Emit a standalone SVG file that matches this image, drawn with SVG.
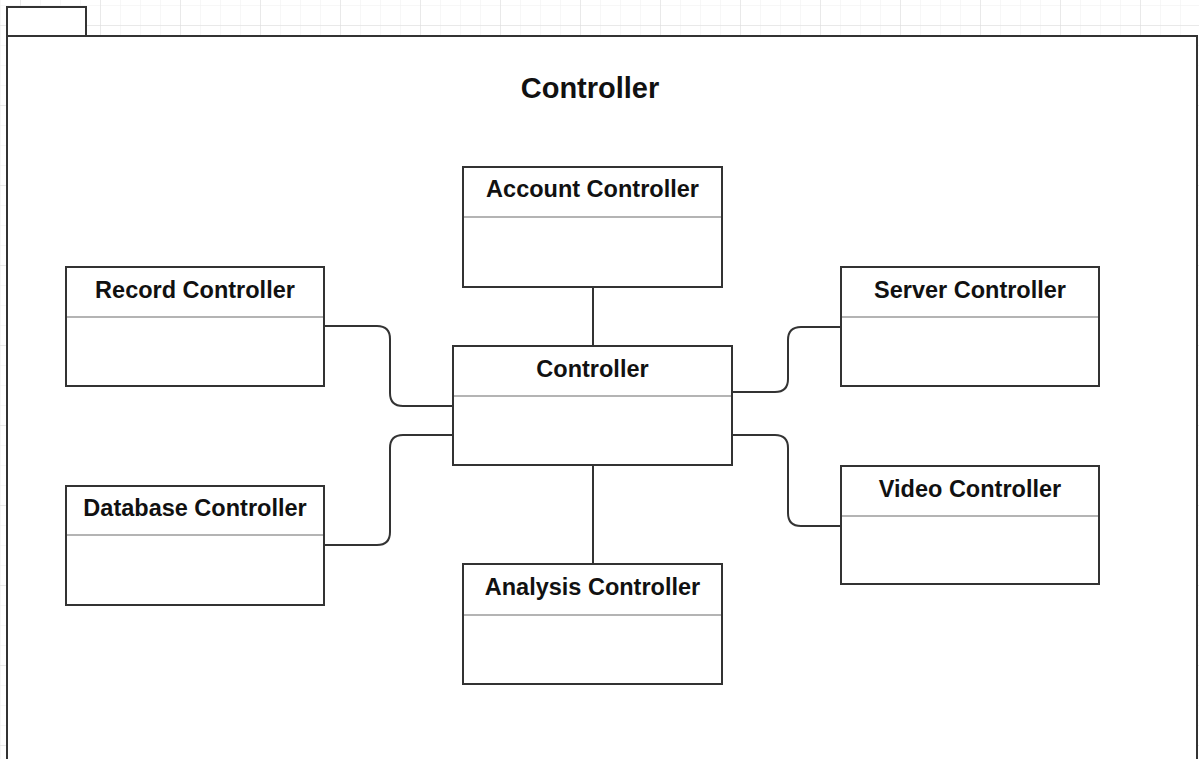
<svg xmlns="http://www.w3.org/2000/svg" width="1199" height="759" viewBox="0 0 1199 759">
<defs>
  <pattern id="minor" x="0" y="5" width="20" height="20" patternUnits="userSpaceOnUse">
    <path d="M0 0 H20 M0 0 V20" fill="none" stroke="#efefef" stroke-width="1"/>
  </pattern>
  <pattern id="major" x="20" y="25" width="80" height="80" patternUnits="userSpaceOnUse">
    <path d="M0 0 H80 M0 0 V80" fill="none" stroke="#dcdcdc" stroke-width="1"/>
  </pattern>
</defs>
<style>
  .box { fill: #ffffff; stroke: #333333; stroke-width: 2; }
  .div { stroke: #b4b4b4; stroke-width: 2; }
  .lbl { font-family: "Liberation Sans", Arial, sans-serif; font-weight: bold; font-size: 23.5px; fill: #111111; text-anchor: middle; }
  .title { font-family: "Liberation Sans", Arial, sans-serif; font-weight: bold; font-size: 29px; fill: #111111; text-anchor: middle; }
  .conn { fill: none; stroke: #333333; stroke-width: 2; }
</style>
<rect x="0" y="0" width="1199" height="759" fill="#ffffff"/>
<rect x="0" y="0" width="1199" height="759" fill="url(#minor)"/>
<rect x="0" y="0" width="1199" height="759" fill="url(#major)"/>

<g id="frame">
  <rect x="7" y="7" width="79" height="29" class="box"/>
  <rect x="7" y="36" width="1190" height="800" class="box"/>
  <text x="590" y="98" class="title">Controller</text>
</g>

<g id="connectors">
  <path class="conn" d="M593 287 V346"/>
  <path class="conn" d="M593 465 V564"/>
  <path class="conn" d="M324 326 H377 Q390 326 390 339 V393 Q390 406 403 406 H453"/>
  <path class="conn" d="M453 435 H403 Q390 435 390 448 V532 Q390 545 377 545 H324"/>
  <path class="conn" d="M732 392 H775 Q788 392 788 379 V340 Q788 327 801 327 H841"/>
  <path class="conn" d="M732 435 H775 Q788 435 788 448 V513 Q788 526 801 526 H841"/>
</g>

<g id="node-account">
  <rect x="463" y="167" width="259" height="120" class="box"/>
  <line x1="464" y1="217" x2="721" y2="217" class="div"/>
  <text x="592.5" y="197" class="lbl">Account Controller</text>
</g>

<g id="node-record">
  <rect x="66" y="267" width="258" height="119" class="box"/>
  <line x1="67" y1="317" x2="323" y2="317" class="div"/>
  <text x="195" y="298" class="lbl">Record Controller</text>
</g>

<g id="node-server">
  <rect x="841" y="267" width="258" height="119" class="box"/>
  <line x1="842" y1="317" x2="1098" y2="317" class="div"/>
  <text x="970" y="298" class="lbl">Server Controller</text>
</g>

<g id="node-controller">
  <rect x="453" y="346" width="279" height="119" class="box"/>
  <line x1="454" y1="396" x2="731" y2="396" class="div"/>
  <text x="592.5" y="377" class="lbl">Controller</text>
</g>

<g id="node-database">
  <rect x="66" y="486" width="258" height="119" class="box"/>
  <line x1="67" y1="535" x2="323" y2="535" class="div"/>
  <text x="195" y="516" class="lbl">Database Controller</text>
</g>

<g id="node-video">
  <rect x="841" y="466" width="258" height="118" class="box"/>
  <line x1="842" y1="516" x2="1098" y2="516" class="div"/>
  <text x="970" y="497" class="lbl">Video Controller</text>
</g>

<g id="node-analysis">
  <rect x="463" y="564" width="259" height="120" class="box"/>
  <line x1="464" y1="615" x2="721" y2="615" class="div"/>
  <text x="592.5" y="595" class="lbl">Analysis Controller</text>
</g>
</svg>
